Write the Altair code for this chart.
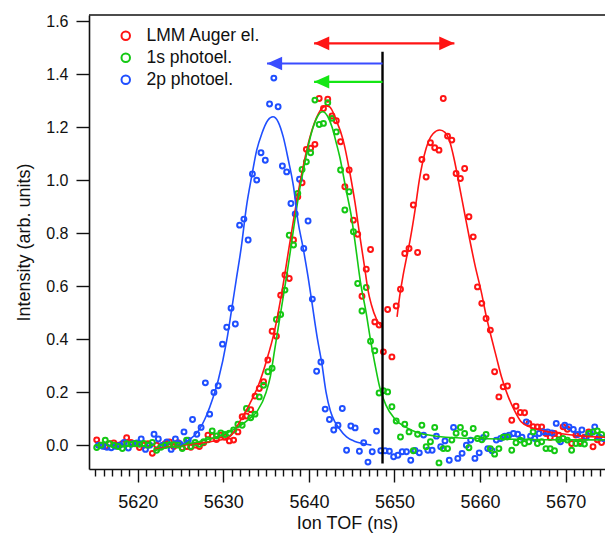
import altair as alt
import pandas as pd

FONT = "Liberation Sans"
SERIES = ["LMM Auger el.", "1s photoel.", "2p photoel."]
COLORS = ["#ff1414", "#14c814", "#1f4fff"]

# sampling grid of the measured points (ns)
TOF_START = {"LMM Auger el.": 5615.2, "1s photoel.": 5615.2, "2p photoel.": 5615.4}
TOF_STEP = 0.5

LMM_AUGER = [
    0.020, 0.000, -0.005, 0.005, 0.008, 0.000, 0.005, 0.028, 0.010, 0.005,
    -0.009, 0.000, 0.005, -0.031, 0.000, -0.005, 0.005, 0.012, -0.005, 0.009,
    -0.010, -0.005, -0.008, 0.000, -0.005, 0.009, 0.038, 0.034, 0.021, 0.038,
    0.030, 0.016, 0.019, 0.050, 0.107, 0.110, 0.134, 0.185, 0.214, 0.239,
    0.321, 0.430, 0.411, 0.566, 0.642, 0.629, 0.774, 0.937, 0.990, 1.116,
    1.120, 1.135, 1.308, 1.270, 1.305, 1.242, 1.224, 1.145, 0.975, 1.038,
    0.849, 0.796, 0.562, 0.664, 0.738, 0.465, 0.453, 0.352, 0.512, 0.333,
    0.525, 0.588, 0.723, 0.742, 0.906, 0.727, 1.078, 1.012, 1.141, 1.122,
    1.113, 1.308, 1.166, 1.151, 1.025, 1.006, 1.044, 0.862, 0.786, 0.597,
    0.535, 0.478, 0.434, 0.277, 0.182, 0.220, 0.223, 0.094, 0.147, 0.123,
    0.122, 0.082, 0.070, 0.069, 0.069, 0.044, 0.029, 0.044, 0.038, 0.069,
    0.060, 0.006, 0.038, 0.013, 0.030, 0.050, -0.006, 0.020, 0.010,
]
PHOTO_1S = [
    -0.009, 0.000, 0.019, 0.005, 0.000, -0.005, -0.013, 0.005, 0.003, 0.006,
    0.003, 0.006, 0.000, 0.010, -0.019, -0.008, 0.000, 0.002, 0.002, 0.000,
    -0.013, 0.019, -0.005, 0.010, 0.003, 0.013, 0.020, 0.054, 0.035, 0.046,
    0.040, 0.045, 0.057, 0.079, 0.075, 0.138, 0.103, 0.117, 0.182, 0.226,
    0.277, 0.290, 0.474, 0.493, 0.585, 0.792, 0.755, 0.950, 1.040, 1.069,
    1.103, 1.302, 1.210, 1.214, 1.292, 1.233, 1.182, 1.038, 0.887, 0.956,
    0.805, 0.610, 0.506, 0.595, 0.392, 0.356, 0.197, 0.205, 0.201, 0.145,
    0.091, 0.031, 0.079, 0.050, -0.021, 0.041, 0.075, -0.006, 0.013, 0.067,
    -0.067, -0.013, -0.013, 0.019, 0.045, 0.067, 0.044, -0.010, 0.063, 0.025,
    0.020, 0.040, -0.013, -0.034, -0.013, 0.030, 0.031, -0.019, 0.009, 0.019,
    0.006, 0.013, 0.050, 0.006, 0.013, -0.013, -0.013, -0.021, 0.020, 0.025,
    0.019, -0.019, 0.006, 0.006, 0.004, 0.044, 0.050, 0.054, 0.040,
]
PHOTO_2P = [
    0.000, -0.004, -0.008, -0.010, -0.004, 0.000, 0.010, -0.011, 0.005, 0.008,
    0.023, -0.016, 0.000, 0.041, 0.023, 0.000, 0.012, -0.016, 0.023, 0.005,
    0.050, 0.019, 0.097, 0.041, 0.067, 0.235, 0.117, 0.199, 0.224, 0.381,
    0.445, 0.517, 0.457, 0.830, 0.853, 0.774, 1.023, 1.000, 1.103, 1.075,
    1.287, 1.385, 1.277, 1.053, 1.031, 0.912, 0.872, 1.003, 0.742, 0.846,
    0.551, 0.279, 0.314, 0.136, 0.097, 0.057, 0.075, 0.138, -0.019, 0.072,
    0.065, -0.023, 0.009, -0.064, -0.025, 0.053, -0.021, -0.021, -0.023, -0.044,
    -0.038, -0.025, -0.025, -0.057, -0.020, -0.029, 0.038, -0.019, -0.019, 0.034,
    -0.006, 0.016, -0.057, 0.067, -0.050, -0.031, 0.000, 0.019, -0.050, -0.029,
    0.029, -0.013, -0.021, 0.019, 0.025, 0.034, 0.038, 0.044, 0.041, 0.030,
    0.088, 0.034, 0.025, 0.044, 0.050, 0.050, 0.046, 0.082, 0.013, 0.075,
    0.069, 0.059, 0.040, 0.057, 0.030, 0.045, 0.069, 0.031, 0.025,
]

# fitted curves
FIT_2P_T = [5624.9, 5626.0, 5627.0, 5628.0, 5628.8, 5629.4, 5630.4, 5630.9, 5631.5, 5632.1,
            5632.7, 5633.3, 5633.9, 5634.5, 5635.2, 5635.8, 5636.4, 5637.0, 5637.6, 5638.2,
            5638.7, 5639.3, 5639.9, 5640.3, 5641.0, 5641.5, 5642.0, 5642.5, 5643.0, 5643.5,
            5644.4, 5645.3, 5646.3, 5647.3]
FIT_2P_V = [0.0, 0.02, 0.05, 0.11, 0.18, 0.245, 0.396, 0.497, 0.623, 0.748,
            0.9, 1.012, 1.113, 1.176, 1.226, 1.239, 1.22, 1.163, 1.075, 0.975,
            0.849, 0.748, 0.635, 0.55, 0.40, 0.31, 0.20, 0.13, 0.09, 0.065,
            0.031, 0.015, 0.006, 0.0]
FIT_1S_T = [5622.0, 5623.0, 5624.0, 5625.0, 5626.0, 5627.0, 5628.0, 5629.0, 5630.0, 5631.0,
            5632.0, 5633.0, 5634.0, 5635.0, 5635.5, 5636.0, 5636.5, 5637.0, 5637.5, 5638.0,
            5638.5, 5639.0, 5639.5, 5640.0, 5640.5, 5641.0, 5641.6, 5642.2, 5642.7, 5643.2,
            5643.6, 5644.3, 5645.0, 5645.5, 5646.0, 5646.7, 5647.2, 5647.7, 5648.3, 5649.0,
            5650.0, 5651.2, 5652.5, 5654.0, 5656.0, 5660.0, 5665.0, 5670.0, 5674.6]
FIT_1S_V = [-0.02, -0.013, -0.006, 0.0, 0.006, 0.012, 0.02, 0.029, 0.04, 0.055,
            0.074, 0.098, 0.13, 0.2, 0.26, 0.36, 0.46, 0.56, 0.66, 0.77,
            0.88, 0.98, 1.06, 1.14, 1.2, 1.24, 1.258, 1.24, 1.2, 1.14,
            1.088, 0.97, 0.855, 0.74, 0.62, 0.497, 0.396, 0.308, 0.215, 0.151,
            0.1, 0.07, 0.05, 0.038, 0.03, 0.025, 0.022, 0.02, 0.02]
FIT_AUGER1_T = [5622.0, 5624.0, 5626.0, 5628.0, 5629.0, 5630.4, 5631.1, 5631.9, 5633.1, 5634.1,
                5635.0, 5636.0, 5636.8, 5637.8, 5638.9, 5640.1, 5641.1, 5642.0, 5642.4, 5643.2,
                5644.0, 5644.8, 5645.4, 5645.9, 5646.5, 5646.9, 5647.3, 5647.9, 5648.5]
FIT_AUGER1_V = [-0.015, -0.005, 0.003, 0.01, 0.016, 0.025, 0.044, 0.088, 0.157, 0.226,
                0.314, 0.434, 0.57, 0.77, 0.98, 1.16, 1.25, 1.28, 1.277, 1.226,
                1.151, 1.025, 0.912, 0.80, 0.673, 0.585, 0.53, 0.475, 0.446]
FIT_AUGER2_T = [5650.3, 5650.6, 5651.0, 5651.3, 5651.8, 5652.4, 5652.9, 5653.7, 5654.5, 5655.3,
                5655.9, 5656.4, 5657.0, 5657.6, 5658.2, 5658.8, 5659.4, 5660.2, 5660.7, 5661.3,
                5661.9, 5662.5, 5663.3, 5664.0, 5664.8, 5665.8, 5667.0, 5669.3, 5671.6, 5674.6]
FIT_AUGER2_V = [0.484, 0.56, 0.64, 0.69, 0.77, 0.887, 1.0, 1.12, 1.175, 1.189,
                1.18, 1.151, 1.075, 0.975, 0.874, 0.774, 0.68, 0.57, 0.49, 0.409,
                0.333, 0.258, 0.182, 0.132, 0.088, 0.069, 0.057, 0.044, 0.035, 0.03]

# arrows (TOF of tail, TOF of head, level) and the vertical marker
ARROW_Y = [1.516, 1.440, 1.371]
ARROW_X1 = [5640.6, 5635.1, 5640.6]
ARROW_X2 = [5657.0, 5648.6, 5648.6]
ARROW_COLOR = ["#ff1414", "#3a4cff", "#14e614"]
HEAD_X = [5640.6, 5657.0, 5635.1, 5640.6]
HEAD_Y = [1.516, 1.516, 1.440, 1.371]
HEAD_DIR = ["left", "right", "left", "left"]
HEAD_COLOR = ["#ff1414", "#ff1414", "#3a4cff", "#14e614"]
MARKER_X = 5648.6
MARKER_Y = [-0.069, 1.484]

X_DOMAIN = [5614.3, 5674.6]
Y_DOMAIN = [-0.09, 1.623]
X_TICKS = list(range(5615, 5675))          # every ns; labelled every 10 ns
Y_TICKS = [0.0, 0.2, 0.4, 0.6, 0.8, 1.0, 1.2, 1.4, 1.6]

# ---- tables ----
rows = []
for name, vals in [("LMM Auger el.", LMM_AUGER), ("2p photoel.", PHOTO_2P), ("1s photoel.", PHOTO_1S)]:
    for i, v in enumerate(vals):
        rows.append({"tof": TOF_START[name] + TOF_STEP * i, "intensity": v, "series": name})
pts = pd.DataFrame(rows)

fit_rows = []
for fid, col, ts, vs in [("a1", COLORS[0], FIT_AUGER1_T, FIT_AUGER1_V),
                         ("a2", COLORS[0], FIT_AUGER2_T, FIT_AUGER2_V),
                         ("s1", COLORS[1], FIT_1S_T, FIT_1S_V),
                         ("p2", COLORS[2], FIT_2P_T, FIT_2P_V)]:
    for t, v in zip(ts, vs):
        fit_rows.append({"tof": t, "intensity": v, "fit": fid, "color": col})
fits = pd.DataFrame(fit_rows)

arrows = pd.DataFrame({"tof": ARROW_X1, "tof2": ARROW_X2, "intensity": ARROW_Y, "color": ARROW_COLOR})
SHAPES = {"left": "M0,0L2,-0.9L2,0.9Z", "right": "M0,0L-2,-0.9L-2,0.9Z"}
heads = pd.DataFrame({"tof": HEAD_X, "intensity": HEAD_Y, "color": HEAD_COLOR,
                      "shape": [SHAPES[d] for d in HEAD_DIR]})
marker = pd.DataFrame({"tof": [MARKER_X], "intensity": [MARKER_Y[0]], "intensity2": [MARKER_Y[1]]})
frame_top = pd.DataFrame({"intensity": [Y_DOMAIN[1]]})

xs = alt.Scale(domain=X_DOMAIN, nice=False, zero=False)
ys = alt.Scale(domain=Y_DOMAIN, nice=False, zero=False)

x_axis = alt.Axis(
    values=X_TICKS, format="d",
    labelExpr="datum.value % 10 === 0 ? datum.label : ''",
    tickSize={"condition": {"test": "datum.value % 10 === 0", "value": 13}, "value": 7},
    labelPadding=11, labelFontSize=18, labelFlush=False, labelOverlap=False,
    title="Ion TOF (ns)", titlePadding=3, grid=False,
)
y_axis = alt.Axis(values=Y_TICKS, format=".1f", tickSize=13, labelPadding=8,
                  labelFontSize=16, title="Intensity (arb. units)", titlePadding=12,
                  grid=False)

X = alt.X("tof:Q", scale=xs, axis=x_axis)
Y = alt.Y("intensity:Q", scale=ys, axis=y_axis)

points = alt.Chart(pts).mark_point(filled=False, size=24, strokeWidth=2, opacity=1, clip=True).encode(
    x=X, y=Y,
    color=alt.Color("series:N", scale=alt.Scale(domain=SERIES, range=COLORS),
                    legend=alt.Legend(title=None, orient="none", legendX=28, legendY=12,
                                      symbolType="circle", symbolSize=72, symbolStrokeWidth=2,
                                      symbolFillColor="transparent",
                                      labelFontSize=17.5, labelFont=FONT, labelColor="#111",
                                      labelOffset=12, rowPadding=3, padding=0)),
)

lines = alt.Chart(fits).mark_line(strokeWidth=1.6, interpolate="monotone", clip=True).encode(
    x=X, y=Y,
    detail="fit:N",
    color=alt.Color("color:N", scale=None),
)

shafts = alt.Chart(arrows).mark_rule(strokeWidth=2.2).encode(
    x=X, x2="tof2:Q", y=Y,
    color=alt.Color("color:N", scale=None),
)

tips = alt.Chart(heads).mark_point(filled=True, size=230, opacity=1, strokeWidth=0).encode(
    x=X, y=Y,
    color=alt.Color("color:N", scale=None),
    shape=alt.Shape("shape:N", scale=None),
)

vline = alt.Chart(marker).mark_rule(strokeWidth=2.4, color="black").encode(
    x=X, y=Y, y2="intensity2:Q",
)

topline = alt.Chart(frame_top).mark_rule(strokeWidth=1.6, color="#111").encode(
    y=Y,
)

chart = alt.layer(points, lines, vline, shafts, tips, topline).properties(
    width=516, height=454,
    padding={"left": 89, "top": 15, "right": 0, "bottom": 65},
    autosize=alt.AutoSizeParams(type="none"),
    background="white",
).configure_view(stroke=None).configure_axis(
    labelFont=FONT, titleFont=FONT, titleFontSize=18,
    titleFontWeight="normal", labelColor="#111", titleColor="#111",
    domainColor="#111", tickColor="#111", domainWidth=1.6, tickWidth=1.4,
)

chart.save("out.html", embed_options={"renderer": "svg", "actions": False})
